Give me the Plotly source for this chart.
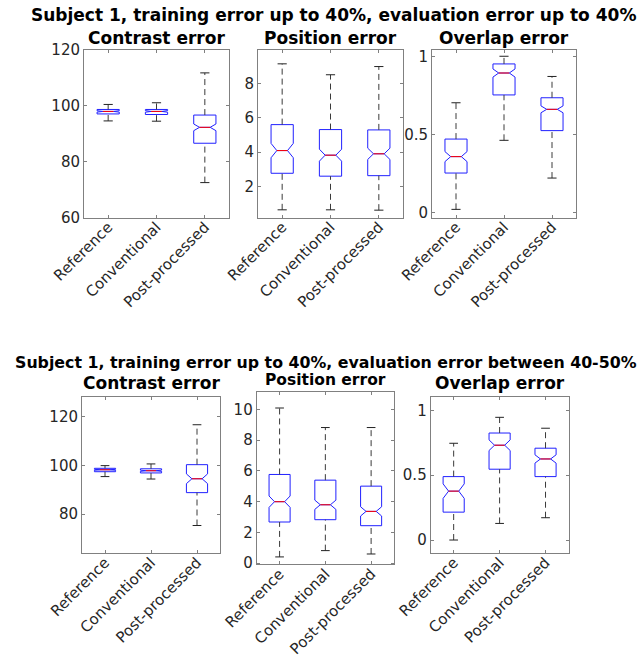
import plotly.graph_objects as go

W, H = 641, 658

categories = ["Reference", "Conventional", "Post-processed"]
positions = [1, 2, 3]

main_titles = [
    "Subject 1, training error up to 40%, evaluation error up to 40%",
    "Subject 1, training error up to 40%, evaluation error between 40-50%",
]
panel_titles = ["Contrast error", "Position error", "Overlap error"]

# ---- Top row (evaluation error up to 40%) ----
top_contrast_lo = [94.6, 94.5, 72.5]
top_contrast_q1 = [97.1, 96.9, 86.6]
top_contrast_med = [98.0, 98.0, 92.3]
top_contrast_q3 = [98.7, 98.7, 96.7]
top_contrast_hi = [100.5, 101.1, 111.8]
top_contrast_notch = [0.25, 0.28, 1.2]

top_position_lo = [0.62, 0.62, 0.60]
top_position_q1 = [2.76, 2.59, 2.62]
top_position_med = [4.09, 3.82, 3.90]
top_position_q3 = [5.61, 5.32, 5.30]
top_position_hi = [9.17, 8.53, 9.01]
top_position_notch = [0.42, 0.35, 0.33]

top_overlap_lo = [0.022, 0.463, 0.222]
top_overlap_q1 = [0.254, 0.753, 0.525]
top_overlap_med = [0.359, 0.893, 0.661]
top_overlap_q3 = [0.471, 0.951, 0.735]
top_overlap_hi = [0.703, 1.0, 0.871]
top_overlap_notch = [0.032, 0.026, 0.022]

# ---- Bottom row (evaluation error between 40-50%) ----
bot_contrast_lo = [95.4, 94.4, 75.3]
bot_contrast_q1 = [97.4, 96.9, 88.8]
bot_contrast_med = [98.2, 97.8, 94.5]
bot_contrast_q3 = [98.8, 98.6, 100.3]
bot_contrast_hi = [99.9, 100.6, 116.7]
bot_contrast_notch = [0.2, 0.25, 2.0]

bot_position_lo = [0.41, 0.82, 0.60]
bot_position_q1 = [2.68, 2.83, 2.44]
bot_position_med = [4.00, 3.80, 3.37]
bot_position_q3 = [5.77, 5.40, 5.01]
bot_position_hi = [10.09, 8.82, 8.82]
bot_position_notch = [0.37, 0.30, 0.30]

bot_overlap_lo = [0.0, 0.128, 0.172]
bot_overlap_q1 = [0.215, 0.546, 0.489]
bot_overlap_med = [0.377, 0.731, 0.625]
bot_overlap_q3 = [0.489, 0.825, 0.708]
bot_overlap_hi = [0.746, 0.946, 0.862]
bot_overlap_notch = [0.056, 0.041, 0.032]

# axis settings: y range and tick values per panel
y_ranges = [[60, 120], [0.17, 9.98], [-0.03, 1.04],
            [64, 128.1], [-0.07, 11.15], [-0.1, 1.105]]
y_ticks = [[60, 80, 100, 120], [2, 4, 6, 8], [0, 0.5, 1],
           [80, 100, 120], [0, 2, 4, 6, 8, 10], [0, 0.5, 1]]

panels = [
    (top_contrast_lo, top_contrast_q1, top_contrast_med, top_contrast_q3, top_contrast_hi, top_contrast_notch),
    (top_position_lo, top_position_q1, top_position_med, top_position_q3, top_position_hi, top_position_notch),
    (top_overlap_lo, top_overlap_q1, top_overlap_med, top_overlap_q3, top_overlap_hi, top_overlap_notch),
    (bot_contrast_lo, bot_contrast_q1, bot_contrast_med, bot_contrast_q3, bot_contrast_hi, bot_contrast_notch),
    (bot_position_lo, bot_position_q1, bot_position_med, bot_position_q3, bot_position_hi, bot_position_notch),
    (bot_overlap_lo, bot_overlap_q1, bot_overlap_med, bot_overlap_q3, bot_overlap_hi, bot_overlap_notch),
]

# panel frames in pixels: (left, right, top, bottom)
frames_px = [
    (84, 229, 50, 217.5), (258, 403, 50, 217.5), (432, 576, 50, 217.5),
    (82, 220, 397, 553), (256.7, 394, 391.7, 564.3), (430.7, 568.5, 396.7, 553),
]

BOX_W = 0.46
CAP_W = 0.19
NOTCH_W = 0.26
MED_HALF = BOX_W / 2 * (1 - 2 * NOTCH_W)

TICK_FONT = dict(family="DejaVu Sans", size=15, color="#262626")
AXIS_COLOR = "#808080"

fig = go.Figure()
layout_axes = {}

for i, (lo, q1, med, q3, hi, notch) in enumerate(panels):
    n = i + 1
    xa = "x" if n == 1 else f"x{n}"
    ya = "y" if n == 1 else f"y{n}"

    # dashed whiskers
    wx, wy = [], []
    for p, a, b, c, d in zip(positions, lo, q1, q3, hi):
        wx += [p, p, None, p, p, None]
        wy += [c, d, None, a, b, None]
    fig.add_trace(go.Scatter(x=wx, y=wy, mode="lines", xaxis=xa, yaxis=ya,
                             line=dict(color="#3a3a3a", width=1, dash="6px,4px"),
                             hoverinfo="skip", showlegend=False))
    # whisker caps
    cx, cy = [], []
    for p, a, d in zip(positions, lo, hi):
        cx += [p - CAP_W / 2, p + CAP_W / 2, None, p - CAP_W / 2, p + CAP_W / 2, None]
        cy += [d, d, None, a, a, None]
    fig.add_trace(go.Scatter(x=cx, y=cy, mode="lines", xaxis=xa, yaxis=ya,
                             line=dict(color="#222222", width=1),
                             hoverinfo="skip", showlegend=False))
    # notched boxes
    fig.add_trace(go.Box(x=positions, q1=q1, median=med, q3=q3,
                         lowerfence=q1, upperfence=q3,
                         notched=True, notchspan=notch, notchwidth=NOTCH_W,
                         width=BOX_W, whiskerwidth=0, boxpoints=False,
                         fillcolor="rgba(0,0,0,0)",
                         line=dict(color="#2020ff", width=1),
                         xaxis=xa, yaxis=ya, hoverinfo="skip", showlegend=False))
    # red medians
    mx, my = [], []
    for p, m in zip(positions, med):
        mx += [p - MED_HALF, p + MED_HALF, None]
        my += [m, m, None]
    fig.add_trace(go.Scatter(x=mx, y=my, mode="lines", xaxis=xa, yaxis=ya,
                             line=dict(color="#ff0000", width=1),
                             hoverinfo="skip", showlegend=False))

    l, r, t, b = frames_px[i]
    xkey = "xaxis" if n == 1 else f"xaxis{n}"
    ykey = "yaxis" if n == 1 else f"yaxis{n}"
    layout_axes[xkey] = dict(
        domain=[l / W, r / W], anchor=ya, range=[0.5, 3.5], automargin=False,
        tickmode="array", tickvals=positions, ticktext=categories,
        tickangle=-45, ticks="inside", ticklen=3, tickcolor=AXIS_COLOR,
        ticklabelstandoff=-6,
        showline=True, linecolor=AXIS_COLOR, linewidth=1, mirror="allticks",
        showgrid=False, zeroline=False, tickfont=TICK_FONT)
    layout_axes[ykey] = dict(
        domain=[1 - b / H, 1 - t / H], anchor=xa, range=y_ranges[i], automargin=False,
        tickmode="array", tickvals=y_ticks[i],
        ticks="inside", ticklen=3, tickcolor=AXIS_COLOR,
        showline=True, linecolor=AXIS_COLOR, linewidth=1, mirror="allticks",
        showgrid=False, zeroline=False, tickfont=TICK_FONT)

annotations = []
sub_title_y = [38, 38, 38, 383.5, 380, 383.5]
sub_title_size = [17, 17, 17, 17, 15.5, 17]
for i in range(6):
    l, r, t, b = frames_px[i]
    annotations.append(dict(
        text=f"<b>{panel_titles[i % 3]}</b>", xref="paper", yref="paper",
        x=(l + r) / 2 / W, y=1 - sub_title_y[i] / H, xanchor="center", yanchor="middle",
        showarrow=False, font=dict(family="DejaVu Sans", size=sub_title_size[i], color="#000000")))
main_y = [15, 362]
main_x = [333, 326]
main_size = [17, 15.8]
for k in range(2):
    annotations.append(dict(
        text=f"<b>{main_titles[k]}</b>", xref="paper", yref="paper",
        x=main_x[k] / W, y=1 - main_y[k] / H, xanchor="center", yanchor="middle",
        showarrow=False, font=dict(family="DejaVu Sans", size=main_size[k], color="#000000")))

fig.update_layout(width=W, height=H,
                  margin=dict(l=0, r=0, t=0, b=0, pad=0, autoexpand=False),
                  paper_bgcolor="white", plot_bgcolor="white",
                  showlegend=False, annotations=annotations, boxmode="overlay",
                  **layout_axes)

fig.write_html("out.html",
               post_script="document.body.style.margin='0';document.body.style.padding='0';")
